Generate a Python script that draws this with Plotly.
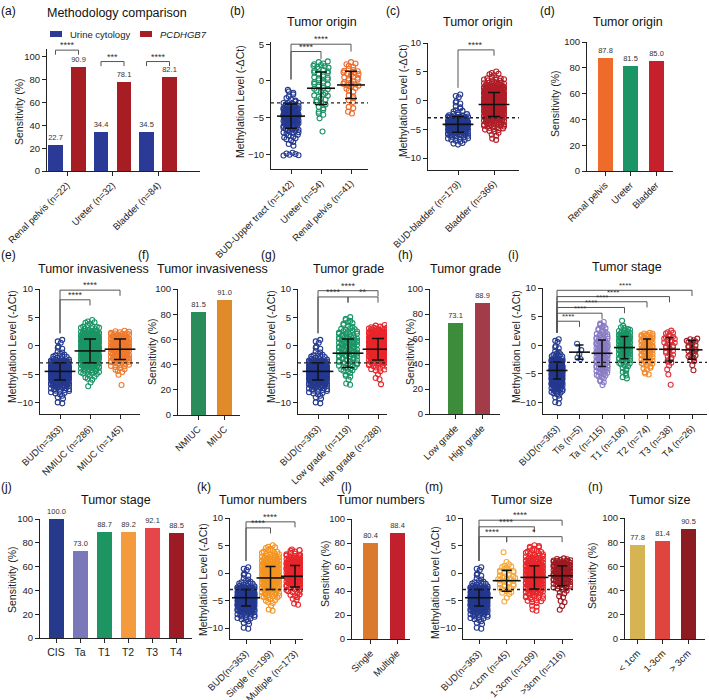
import plotly.graph_objects as go

W, H = 709, 700
FONT = "Liberation Sans, Arial, Helvetica, sans-serif"
BIN = 0.5  # width of the -ΔCt bins used for the dot counts

# ---------------- data ----------------
# (a) methodology comparison
a_cats = ["Renal pelvis (n=22)", "Ureter (n=32)", "Bladder (n=84)"]
a_cytology = [22.7, 34.4, 34.5]
a_pcdhgb7 = [90.9, 78.1, 82.1]
a_sig = ["****", "***", "****"]

# sensitivity bar panels
d_cats = ["Renal pelvis", "Ureter", "Bladder"]
d_sens = [87.8, 81.5, 85.0]
f_cats = ["NMIUC", "MIUC"]
f_sens = [81.5, 91.0]
h_cats = ["Low grade", "High grade"]
h_sens = [73.1, 88.9]
j_cats = ["CIS", "Ta", "T1", "T2", "T3", "T4"]
j_sens = [100.0, 73.0, 88.7, 89.2, 92.1, 88.5]
l_cats = ["Single", "Multiple"]
l_sens = [80.4, 88.4]
n_cats = ["< 1cm", "1-3cm", "> 3cm"]
n_sens = [77.8, 81.4, 90.5]

# methylation level: number of samples per 0.5 bin, listed from the top bin downwards
BUD_top = 1.0
BUD_counts = [2, 1, 1, 2, 2, 3, 4, 8, 22, 44, 58, 62, 52, 36, 22, 14, 10, 7, 5, 3, 2, 1, 2]

b_labels = ["BUD-Upper tract (n=142)", "Ureter (n=54)", "Renal pelvis (n=41)"]
b_tops = [-1.0, 2.5, 2.5]
b_counts = [
    [1, 2, 2, 3, 6, 10, 16, 22, 22, 16, 12, 8, 6, 4, 3, 2, 1, 0, 6],
    [4, 5, 4, 4, 4, 4, 4, 4, 3, 4, 3, 3, 2, 2, 2, 1, 0, 0, 0, 1],
    [3, 2, 4, 5, 4, 4, 5, 3, 2, 2, 2, 1, 2, 1, 1],
]
b_mean = [-4.8, -1.0, -0.55]
b_sd = [1.65, 2.2, 1.85]

c_labels = ["BUD-bladder (n=179)", "Bladder (n=366)"]
c_tops = [1.0, 5.0]
c_counts = [
    [2, 1, 1, 2, 2, 2, 3, 5, 14, 26, 32, 30, 22, 14, 10, 6, 4, 3],
    [2, 3, 4, 6, 9, 14, 20, 28, 34, 36, 34, 32, 28, 22, 21, 18, 15, 12, 9, 7, 5, 3, 2, 1, 1],
]
c_mean = [-4.15, -0.7]
c_sd = [1.35, 2.1]

e_labels = ["BUD(n=363)", "NMIUC (n=286)", "MIUC (n=145)"]
e_tops = [BUD_top, 4.5, 2.5]
e_counts = [
    BUD_counts,
    [2, 3, 4, 6, 10, 15, 20, 24, 26, 26, 24, 22, 20, 18, 16, 14, 11, 8, 6, 4, 3, 2, 1, 1],
    [5, 9, 12, 14, 16, 15, 14, 13, 11, 10, 8, 6, 5, 3, 2, 1, 0, 0, 0, 1],
]
e_mean = [-4.5, -0.9, -0.6]
e_sd = [1.5, 2.1, 1.8]

g_labels = ["BUD(n=363)", "Low grade (n=119)", "High grade (n=288)"]
g_tops = [BUD_top, 5.0, 3.5]
g_counts = [
    BUD_counts,
    [2, 2, 3, 3, 4, 5, 6, 7, 8, 8, 7, 8, 7, 7, 6, 6, 5, 5, 4, 3, 2, 2, 1, 1, 1],
    [4, 8, 14, 20, 26, 30, 32, 30, 28, 24, 20, 16, 12, 9, 5, 4, 2, 1, 1, 1, 0, 1],
]
g_mean = [-4.5, -1.3, -0.6]
g_sd = [1.5, 2.5, 1.9]

i_labels = ["BUD(n=363)", "Tis (n=5)", "Ta (n=115)", "T1 (n=106)", "T2 (n=74)", "T3 (n=38)", "T4 (n=26)"]
i_tops = [BUD_top, 0.5, 4.0, 4.5, 2.0, 2.5, 1.0]
i_counts = [
    BUD_counts,
    [1, 0, 0, 1, 1, 1, 1],
    [2, 2, 3, 3, 4, 5, 6, 7, 8, 8, 8, 8, 8, 7, 7, 6, 6, 5, 4, 3, 2, 2, 1],
    [1, 0, 1, 3, 5, 7, 9, 10, 10, 10, 9, 8, 7, 6, 5, 4, 3, 2, 2, 1, 2, 1],
    [5, 6, 7, 7, 7, 7, 6, 6, 5, 5, 4, 3, 3, 1, 2],
    [2, 3, 3, 4, 4, 3, 3, 3, 3, 2, 2, 2, 1, 1, 0, 1, 0, 0, 0, 1],
    [4, 3, 3, 3, 3, 2, 3, 2, 1, 1, 0, 1],
]
i_mean = [-4.4, -1.2, -1.4, -0.4, -0.7, -0.7, -0.8]
i_sd = [1.5, 1.25, 2.3, 1.95, 1.8, 2.05, 1.65]

k_labels = ["BUD(n=363)", "Single (n=199)", "Multiple (n=173)"]
k_tops = [BUD_top, 5.0, 4.5]
k_counts = [
    BUD_counts,
    [2, 3, 4, 5, 7, 9, 11, 13, 15, 16, 16, 15, 14, 13, 12, 10, 9, 7, 6, 4, 3, 2, 1, 1, 1],
    [1, 3, 5, 7, 10, 13, 15, 16, 16, 15, 15, 13, 11, 9, 7, 5, 4, 3, 2, 1, 1, 1],
]
k_mean = [-4.5, -0.9, -0.6]
k_sd = [1.5, 2.1, 1.95]

m_labels = ["BUD(n=363)", "<1cm (n=45)", "1-3cm (n=199)", ">3cm (n=116)"]
m_tops = [BUD_top, 4.0, 5.0, 2.5]
m_counts = [
    BUD_counts,
    [1, 0, 0, 0, 1, 2, 3, 4, 4, 4, 5, 4, 4, 4, 3, 3, 1, 1, 1],
    [3, 3, 4, 5, 6, 8, 10, 12, 13, 15, 15, 15, 13, 12, 11, 10, 9, 8, 6, 5, 4, 2, 2, 1, 1],
    [6, 10, 12, 13, 12, 12, 11, 9, 8, 7, 5, 3, 2, 1, 1, 1, 1, 1, 1],
]
m_mean = [-4.5, -1.4, -0.8, -0.5]
m_sd = [1.5, 1.9, 2.1, 1.8]

CUTOFF = -3.0

# ---------------- styling ----------------
NAVY = "#24398F"
GREEN = "#1B9566"

fig = go.Figure()
axes = {}
shapes = []
ann = []


def names(n):
    return ("x" if n == 1 else f"x{n}"), ("y" if n == 1 else f"y{n}")


def setup(n, geo, cats, yr, yticks, tickangle=-45, xfont=9.5):
    x0, x1, c0, sp, ytop, ybot = geo
    xa, ya = names(n)
    kx = "xaxis" if n == 1 else f"xaxis{n}"
    ky = "yaxis" if n == 1 else f"yaxis{n}"
    common = dict(showline=True, linecolor="#222", linewidth=1, ticks="outside", ticklen=4,
                  tickwidth=1, tickcolor="#222",
                  showgrid=False, zeroline=False, fixedrange=True, automargin=False)
    axes[kx] = dict(domain=[x0 / W, x1 / W], range=[(x0 - c0) / sp, (x1 - c0) / sp], anchor=ya,
                    tickmode="array", tickvals=list(range(len(cats))), ticktext=cats,
                    tickangle=tickangle, tickfont=dict(size=xfont, color="#222", family=FONT), **common)
    axes[ky] = dict(domain=[1 - ybot / H, 1 - ytop / H], range=yr, anchor=xa,
                    tickmode="array", tickvals=yticks,
                    tickfont=dict(size=9.5, color="#222", family=FONT), **common)
    return xa, ya


def text(x, y, s, size=12.5, angle=0, color="#111", xanchor="center"):
    ann.append(dict(x=x / W, y=1 - y / H, xref="paper", yref="paper", text=s, showarrow=False,
                    font=dict(size=size, color=color, family=FONT), textangle=angle,
                    xanchor=xanchor, yanchor="middle"))


def swarm(top, counts, sp, cap_px, pitch_px):
    xs, ys = [], []
    phi = 0.6180339887
    for i, c in enumerate(counts):
        lvl = top - BIN * i
        if c <= 0:
            continue
        span = min(cap_px, (c - 1) * pitch_px)
        for k in range(c):
            if c == 1:
                dx = ((i * phi) % 1 - 0.5) * pitch_px * 1.4
            else:
                dx = (k / (c - 1) - 0.5) * span
            dy = (((k + i) * phi) % 1 - 0.5) * BIN * 0.9
            xs.append(dx / sp)
            ys.append(lvl + dy)
    return xs, ys


def bracket(xa, ya, xl, xr, y, lab, left_to, right_to, size=9):
    ln = dict(color="#555", width=1)
    shapes.append(dict(type="line", xref=xa, yref=ya, x0=xl, x1=xr, y0=y, y1=y, line=ln))
    shapes.append(dict(type="line", xref=xa, yref=ya, x0=xl, x1=xl, y0=y, y1=left_to, line=ln))
    shapes.append(dict(type="line", xref=xa, yref=ya, x0=xr, x1=xr, y0=y, y1=right_to, line=ln))
    ann.append(dict(x=(xl + xr) / 2, y=y, xref=xa, yref=ya, text=lab, showarrow=False,
                    font=dict(size=size, color="#333", family=FONT), yanchor="bottom", yshift=-2))


def dot_panel(n, geo, labels, tops, counts, means, sds, colors, yr, yticks, brks,
              cap_px, pitch_px, mline, capw, star=9):
    xa, ya = setup(n, geo, labels, yr, yticks)
    sp = geo[3]
    for g in range(len(labels)):
        xs, ys = swarm(tops[g], counts[g], sp, cap_px, pitch_px)
        fig.add_trace(go.Scatter(x=[g + v for v in xs], y=ys, mode="markers", xaxis=xa, yaxis=ya,
                                 marker=dict(symbol="circle-open", size=5, color=colors[g],
                                             line=dict(width=1.1, color=colors[g])),
                                 showlegend=False, hoverinfo="skip"))
    for g in range(len(labels)):
        fig.add_trace(go.Scatter(x=[g], y=[means[g]], mode="markers", xaxis=xa, yaxis=ya,
                                 marker=dict(symbol="line-ew-open", size=mline, color="#111",
                                             line=dict(width=1.6, color="#111")),
                                 error_y=dict(type="data", array=[sds[g]], visible=True,
                                              color="#111", thickness=1.5, width=capw),
                                 showlegend=False, hoverinfo="skip"))
    shapes.append(dict(type="line", xref=f"{xa} domain", yref=ya, x0=0, x1=1, y0=CUTOFF, y1=CUTOFF,
                       line=dict(color="#222", width=1.3, dash="dot")))
    base = tops[0] + 1.2
    for (i, j, y, lab) in brks:
        left_to = base if i == 0 else y - 1.0
        bracket(xa, ya, i, j, y, lab, left_to, y - 1.0, size=star)


def bar_panel(n, geo, cats, vals, colors, tickangle=-45, xfont=9.5):
    xa, ya = setup(n, geo, cats, [0, 100], [0, 20, 40, 60, 80, 100], tickangle, xfont)
    sp = geo[3]
    fig.add_trace(go.Bar(x=list(range(len(cats))), y=vals, width=15 / sp, xaxis=xa, yaxis=ya,
                         marker=dict(color=colors, line=dict(width=0)),
                         text=[f"{v:.1f}" for v in vals], textposition="outside",
                         textfont=dict(size=7.5, color="#333", family=FONT),
                         constraintext="none", cliponaxis=False,
                         showlegend=False, hoverinfo="skip"))


# ---------------- geometry (pixels): axis x0, x1, first category x, category pitch, y top, y bottom
G = {
    1: (47, 200, 67, 45.5, 49, 171),
    2: (271, 368, 291, 30, 42, 169),
    3: (428, 519, 458, 36, 43, 169.5),
    4: (587, 673, 605, 25.5, 42, 171),
    5: (40, 140, 60, 30, 289, 414),
    6: (178, 240, 198, 26.5, 289, 415),
    7: (298, 387, 318, 30, 289, 414),
    8: (430, 500, 455.5, 26.5, 289, 414),
    9: (543, 707, 557, 22.5, 288, 414),
    10: (40, 192, 56, 24, 519, 638),
    11: (230, 303, 246, 24.5, 518, 639),
    12: (352, 410, 370.5, 26.5, 519, 639),
    13: (463, 573, 479, 27.7, 518, 639),
    14: (625, 705, 637.5, 25.3, 518, 639),
}
SC = [-12, 10]
ST = [-10, -5, 0, 5, 10]

# (a)
xa, ya = setup(1, G[1], a_cats, [0, 107], [0, 20, 40, 60, 80, 100])
off = 11.5 / G[1][3]
bw = 14.5 / G[1][3]
for vals, col, nm in [(a_cytology, "#2B3A97", "Urine cytology"), (a_pcdhgb7, "#A61E24", "PCDHGB7")]:
    sgn = -1 if nm == "Urine cytology" else 1
    fig.add_trace(go.Bar(x=[k + sgn * off for k in range(3)], y=vals, width=bw, xaxis=xa, yaxis=ya,
                         marker=dict(color=col, line=dict(width=0)), name=nm,
                         text=[f"{v:.1f}" for v in vals], textposition="outside",
                         textfont=dict(size=7.5, color="#333", family=FONT),
                         constraintext="none", cliponaxis=False, showlegend=False, hoverinfo="skip"))
for k, y in enumerate([106, 96, 96]):
    bracket(xa, ya, k - off, k + off, y, a_sig[k], y - 4, y - 4)

# (b)-(n)
dot_panel(2, G[2], b_labels, b_tops, b_counts, b_mean, b_sd, [NAVY, GREEN, "#EE6B2A"],
          [-12, 5.3], [-10, -5, 0, 5], [(0, 1, 4.0, "****"), (0, 2, 5.0, "****")], 15, 4.5, 20, 6)
dot_panel(3, G[3], c_labels, c_tops, c_counts, c_mean, c_sd, [NAVY, "#B01E28"],
          SC, ST, [(0, 1, 8.8, "****")], 20, 4.5, 22, 6)
bar_panel(4, G[4], d_cats, d_sens, ["#EE6B2A", GREEN, "#C6202C"])
dot_panel(5, G[5], e_labels, e_tops, e_counts, e_mean, e_sd, [NAVY, GREEN, "#EE7A2E"],
          SC, ST, [(0, 1, 8.1, "****"), (0, 2, 9.8, "****")], 18, 4.5, 22, 6)
bar_panel(6, G[6], f_cats, f_sens, ["#2A8C5A", "#E08A2A"])
dot_panel(7, G[7], g_labels, g_tops, g_counts, g_mean, g_sd, [NAVY, GREEN, "#E8262B"],
          SC, ST, [(0, 1, 8.6, "****"), (1, 2, 8.6, "**"), (0, 2, 9.7, "****")], 18, 4.5, 22, 6)
bar_panel(8, G[8], h_cats, h_sens, ["#3C8C3C", "#A33B48"])
dot_panel(9, G[9], i_labels, i_tops, i_counts, i_mean, i_sd,
          [NAVY, "#2E4FA0", "#8A7CC4", GREEN, "#F38A2A", "#E0323A", "#A3222A"],
          SC, ST, [(0, 1, 4.2, "****"), (0, 2, 5.6, "****"), (0, 3, 6.6, "****"),
                   (0, 4, 7.6, "****"), (0, 5, 8.5, "****"), (0, 6, 9.6, "****")], 11, 3.5, 15, 4,
          star=8)
bar_panel(10, G[10], j_cats, j_sens, ["#263A8C", "#7B78BA", "#1C9563", "#F39B3D", "#E6454A", "#9C1B25"],
          tickangle=0, xfont=10.5)
dot_panel(11, G[11], k_labels, k_tops, k_counts, k_mean, k_sd, [NAVY, "#F39422", "#E8262B"],
          SC, ST, [(0, 1, 8.2, "****"), (0, 2, 9.3, "****")], 17, 4.5, 20, 5)
bar_panel(12, G[12], l_cats, l_sens, ["#DB7A2C", "#C2202D"])
dot_panel(13, G[13], m_labels, m_tops, m_counts, m_mean, m_sd, [NAVY, "#F4A93C", "#E8262B", "#9E1B24"],
          SC, ST, [(0, 1, 6.6, "****"), (1, 3, 6.6, "*"), (0, 2, 8.4, "****"), (0, 3, 9.6, "****")],
          17, 4.5, 20, 5)
bar_panel(14, G[14], n_cats, n_sens, ["#D6B451", "#DF443F", "#8C1C22"])

# ---------------- texts ----------------
for lab, x, y in [("(a)", 8, 11), ("(b)", 237, 11), ("(c)", 393, 11), ("(d)", 547, 11),
                  ("(e)", 8, 255), ("(f)", 143, 255), ("(g)", 268, 255), ("(h)", 405, 255), ("(i)", 513, 255),
                  ("(j)", 6, 487), ("(k)", 204, 487), ("(l)", 346, 487), ("(m)", 434, 487), ("(n)", 595, 487)]:
    text(x, y, lab, size=12)

for t, x, y in [("Methodology comparison", 117, 13), ("Tumor origin", 322, 22), ("Tumor origin", 478, 22),
                ("Tumor origin", 628, 22), ("Tumor invasiveness", 93, 269), ("Tumor invasiveness", 213, 269),
                ("Tumor grade", 348, 269), ("Tumor grade", 465, 269), ("Tumor stage", 627, 267),
                ("Tumor stage", 116, 500), ("Tumor numbers", 263, 500), ("Tumor numbers", 381, 500),
                ("Tumor size", 521, 500), ("Tumor size", 659, 500)]:
    text(x, y, t, size=12.5)

SENS = "Sensitivity (%)"
METH = "Methylation Level (-ΔCt)"
for t, x, y in [(SENS, 19, 112), (METH, 240, 101), (METH, 403, 101), (SENS, 555, 104),
                (METH, 12, 347), (SENS, 152, 352), (METH, 271, 347), (SENS, 410, 352), (METH, 516, 347),
                (SENS, 12, 580), (METH, 203, 580), (SENS, 325, 574), (METH, 435, 583), (SENS, 592, 576)]:
    text(x, y, t, size=10.5, angle=-90, color="#222")

# legend of panel (a)
for x0, col, lab in [(50, "#2B3A97", "Urine cytology"), (140, "#A61E24", "<i>PCDHGB7</i>")]:
    shapes.append(dict(type="rect", xref="paper", yref="paper", x0=x0 / W, x1=(x0 + 12) / W,
                       y0=1 - 37 / H, y1=1 - 31 / H, fillcolor=col, line=dict(width=0)))
    text(x0 + 18, 34, lab, size=9.5, color="#222", xanchor="left")

fig.update_layout(width=W, height=H, margin=dict(l=0, r=0, t=0, b=0), template="none",
                  paper_bgcolor="white", plot_bgcolor="white", showlegend=False,
                  font=dict(family=FONT, color="#222"), shapes=shapes, annotations=ann,
                  bargap=0, **axes)
fig.write_html("out.html")
